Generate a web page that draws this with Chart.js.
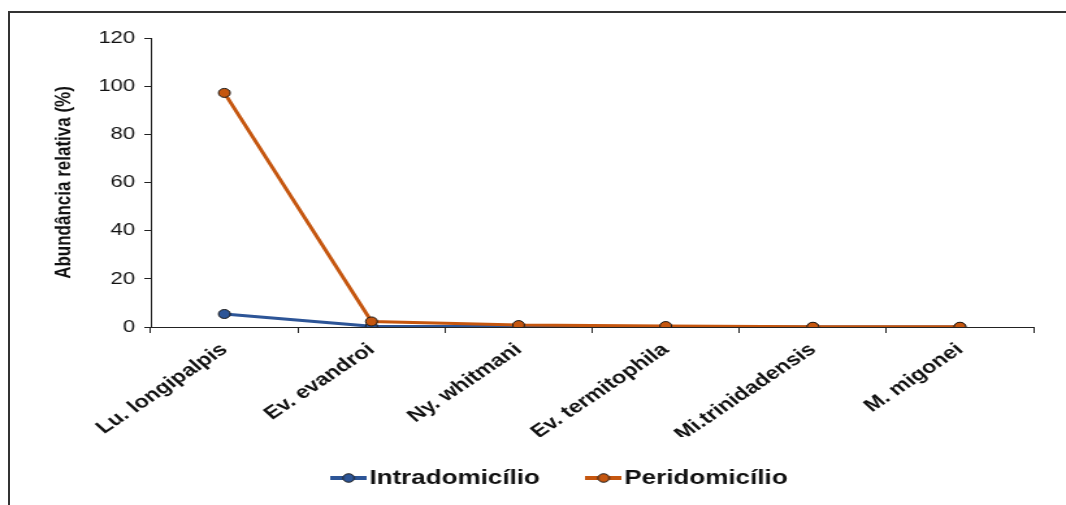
<!DOCTYPE html>
<html><head><meta charset="utf-8">
<script src="https://cdn.jsdelivr.net/npm/chart.js@4.4.1/dist/chart.umd.min.js"></script>
<style>
html,body{margin:0;padding:0;background:#fff;}
#wrap{position:relative;width:1066px;height:505px;overflow:hidden;}
#frame{position:absolute;left:8px;top:11px;width:1100px;height:600px;border-top:2px solid #333;border-left:2px solid #333;}
canvas{position:absolute;left:0;top:0;transform-origin:0 0;transform:scaleX(1.3);}
</style></head>
<body><div id="wrap"><div id="frame"></div><canvas id="c" width="820" height="505"></canvas></div>
<script>
const categories = ["Lu. longipalpis","Ev. evandroi","Ny. whitmani","Ev. termitophila","Mi.trinidadensis","M. migonei"];
const intradomicilio = [5.4, 0.3, 0.2, 0, 0, 0];
const peridomicilio = [97.2, 2.3, 0.8, 0.4, 0.1, 0.1];
const yTicks = [0,20,40,60,80,100,120];

const BLUE = '#2D5597', ORANGE = '#C5560F';
const FONT = '"Liberation Sans", Arial, sans-serif';
function legendIcon(color){
  const cv = document.createElement('canvas'); cv.width = 28; cv.height = 12;
  const g = cv.getContext('2d');
  g.strokeStyle = color; g.lineWidth = 4; g.beginPath(); g.moveTo(0,6); g.lineTo(28,6); g.stroke();
  g.fillStyle = color; g.strokeStyle = '#222'; g.lineWidth = 1;
  g.beginPath(); g.arc(14,6,4.3,0,Math.PI*2); g.fill(); g.stroke();
  return cv;
}
const icons = [legendIcon(BLUE), legendIcon(ORANGE)];

const shiftLegend = {
  id:'shiftLegend',
  afterLayout(chart){ const l = chart.legend; if(l){ l.left += 17; l.right += 17; l.top -= 12; l.bottom -= 12; } }
};

new Chart(document.getElementById('c'), {
  type: 'line',
  plugins:[shiftLegend],
  data: {
    labels: categories,
    datasets: [
      {label:'Intradomicílio', data:intradomicilio, order:1, borderColor:BLUE, backgroundColor:BLUE, borderWidth:3,
       pointRadius:4.5, pointBorderColor:'#1a1a1a', pointBorderWidth:1, pointBackgroundColor:BLUE, tension:0},
      {label:'Peridomicílio', data:peridomicilio, order:0, borderColor:ORANGE, backgroundColor:ORANGE, borderWidth:3,
       pointRadius:4.5, pointBorderColor:'#1a1a1a', pointBorderWidth:1, pointBackgroundColor:ORANGE, tension:0}
    ]
  },
  options: {
    responsive:false, animation:false, devicePixelRatio:1,
    layout:{padding:{left:39,right:25,top:38,bottom:0}},
    plugins:{
      tooltip:{enabled:false},
      legend:{position:'bottom', maxHeight:68, labels:{
        usePointStyle:true, pointStyleWidth:12, padding:43, color:'#111',
        font:{family:FONT, size:20, weight:'bold'},
        generateLabels(chart){
          return [0,1].map(i=>{const d=chart.data.datasets[i]; return {text:d.label, pointStyle:icons[i], fillStyle:d.borderColor,
            strokeStyle:d.borderColor, lineWidth:0, hidden:false, datasetIndex:i, fontColor:'#111'};});
        }
      }}
    },
    scales:{
      x:{offset:true,
        grid:{display:true, drawOnChartArea:false, offset:true, tickLength:6, color:'#222', tickColor:'#222'},
        border:{color:'#222', width:1},
        ticks:{maxRotation:41, minRotation:41, padding:6, color:'#111',
          font:{family:FONT, size:18, weight:'bold'}},
        afterFit(s){ s.height = 110; }
      },
      y:{min:0,max:120,
        afterBuildTicks(s){ s.ticks = yTicks.map(v=>({value:v})); },
        grid:{display:true, drawOnChartArea:false, tickLength:5, color:'#222', tickColor:'#222'},
        border:{color:'#222', width:1},
        ticks:{padding:7, color:'#111', font:{family:FONT, size:17}},
        title:{display:true, text:'Abundância relativa (%)', color:'#111', padding:{top:0,bottom:0},
          font:{family:FONT, size:17, weight:'bold'}},
        afterFit(s){ s.width = 77; }
      }
    }
  }
});
</script></body></html>
